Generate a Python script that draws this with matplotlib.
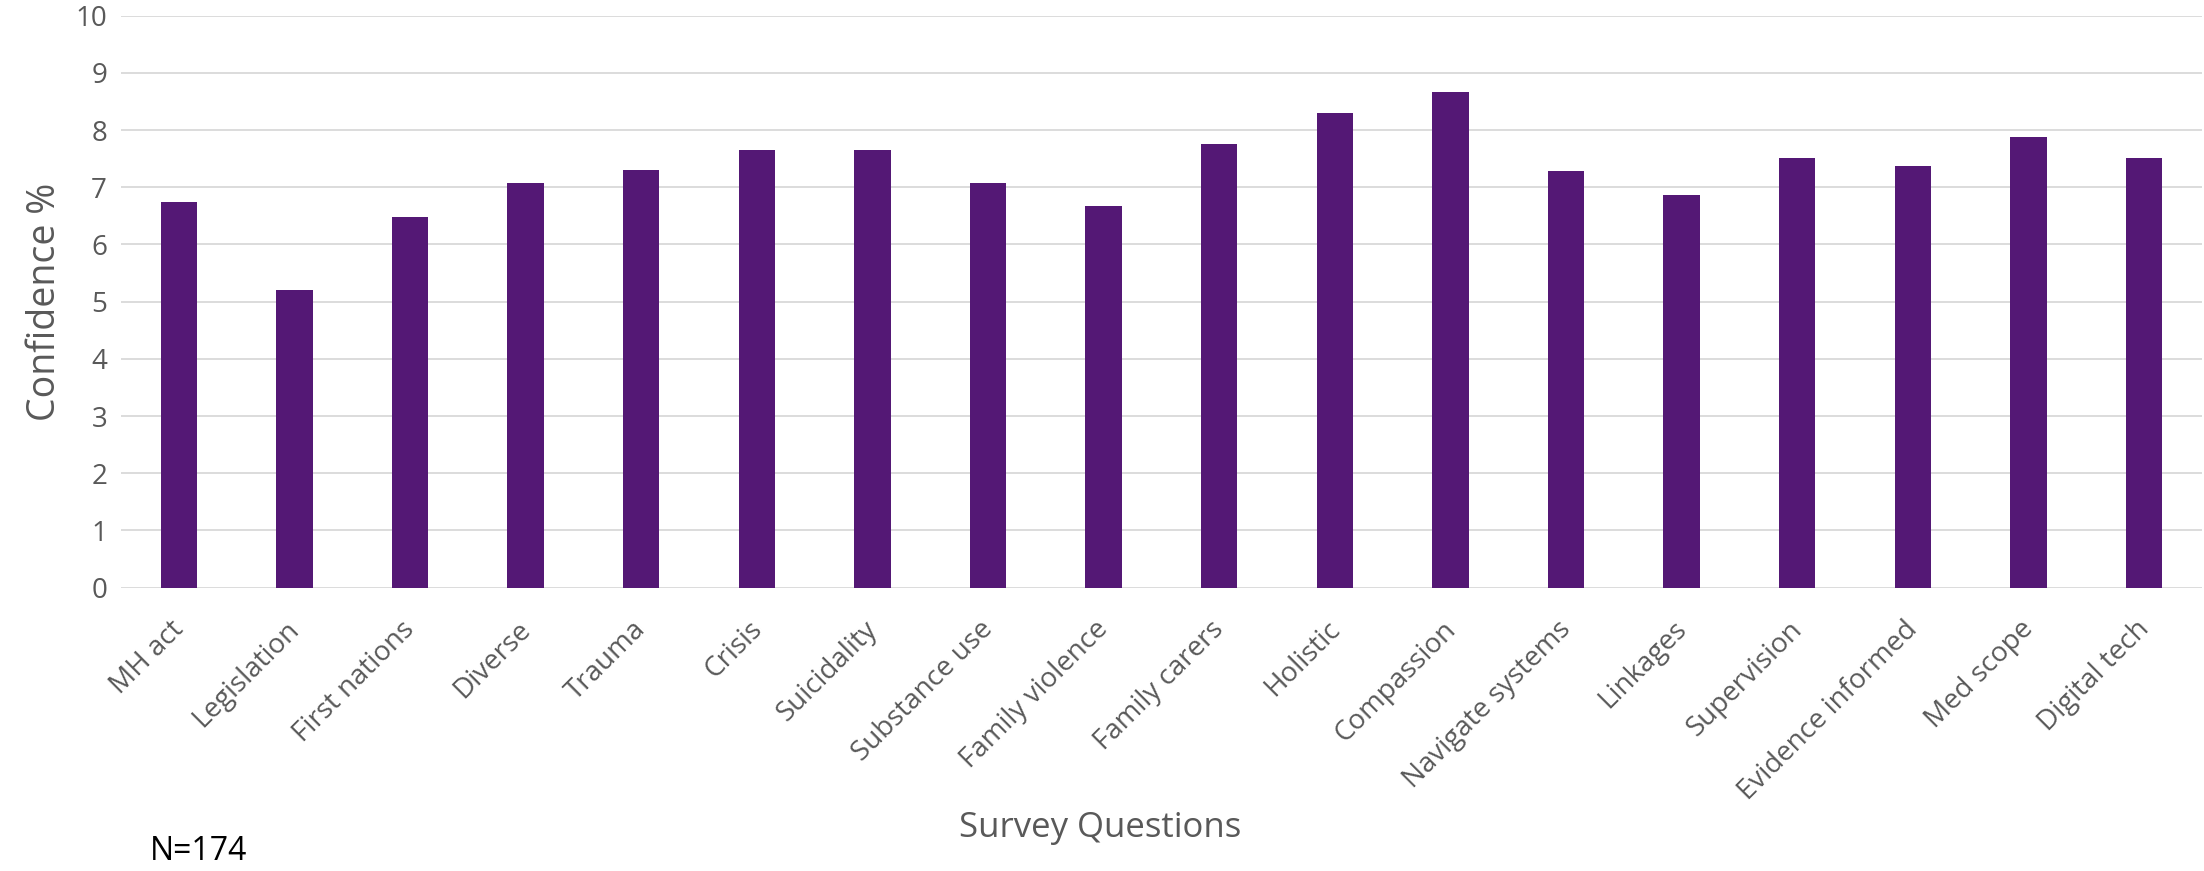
#!/usr/bin/python3
"""
Confidence by survey question bar chart.
"""
import matplotlib
matplotlib.use('Agg')
import matplotlib.pyplot as plt
import matplotlib.transforms as mtransforms
import numpy as np

questions = ['MH act', 'Legislation', 'First nations', 'Diverse', 'Trauma',
             'Crisis', 'Suicidality', 'Substance use', 'Family violence',
             'Family carers', 'Holistic', 'Compassion', 'Navigate systems',
             'Linkages', 'Supervision', 'Evidence informed', 'Med scope',
             'Digital tech']
confidence = [6.75, 5.20, 6.48, 7.07, 7.30, 7.65, 7.66, 7.07, 6.68,
              7.75, 8.30, 8.67, 7.28, 6.87, 7.51, 7.37, 7.88, 7.52]
y_ticks = list(range(0, 11))


def format_plotting():
    plt.rcParams['font.family'] = ['Open Sans', 'DejaVu Sans']
    plt.rcParams['font.size'] = 20
    plt.rcParams['axes.linewidth'] = 0


def plot_confidence():
    format_plotting()
    fig = plt.figure(figsize=(22.04, 8.71), dpi=100)
    ax = fig.add_axes([0.0549, 0.3253, 0.9441, 0.6567])
    x = np.arange(len(questions))
    ax.bar(x, confidence, width=0.315, color='#541875', zorder=3)
    ax.set_xlim(-0.5, len(questions) - 0.5)
    ax.set_ylim(0, 10)
    ax.set_yticks(y_ticks)
    ax.yaxis.grid(True, color='#d9d9d9', linewidth=1.3, zorder=0)
    ax.set_axisbelow(True)
    for s in ax.spines.values():
        s.set_visible(False)
    ax.tick_params(axis='both', length=0, colors='#595959', labelsize=20)
    ax.tick_params(axis='y', pad=10)
    ax.set_xticks(x)
    ax.set_xticklabels(questions, rotation=45, ha='right',
                       rotation_mode='anchor')
    ax.tick_params(axis='x', pad=20)
    # nudge the slanted labels a little to the left, like Excel does
    shift = mtransforms.ScaledTranslation(-0.09, 0, fig.dpi_scale_trans)
    for lab in ax.get_xticklabels():
        lab.set_transform(lab.get_transform() + shift)
    ax.set_ylabel('Confidence %', fontsize=27, color='#595959', labelpad=8)
    fig.text(0.499, 0.049, 'Survey Questions', fontsize=25, color='#595959',
             ha='center', va='center')
    fig.text(0.068, 0.022, 'N=174', fontsize=23, color='black',
             ha='left', va='center')
    fig.savefig('out.png', dpi=100)


if __name__ == "__main__":
    plot_confidence()
